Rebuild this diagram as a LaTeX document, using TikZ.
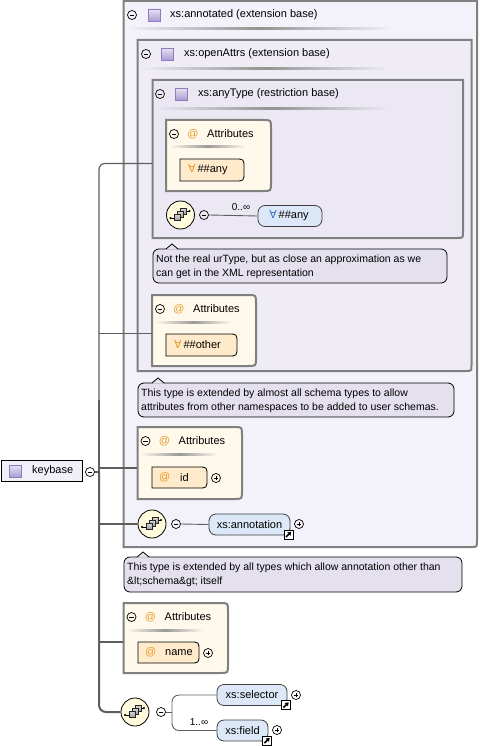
\documentclass[tikz,border=0pt]{standalone}
\usepackage{fontspec}
\setmainfont{Liberation Sans}
\newfontfamily\symfont{DejaVu Sans}
\usetikzlibrary{arrows.meta}
\definecolor{boxline}{HTML}{808080}
\definecolor{typeA}{HTML}{F3F1F9}
\definecolor{typeB}{HTML}{EFECF6}
\definecolor{typeC}{HTML}{EBE8F3}
\definecolor{attrbg}{HTML}{FFF9EC}
\definecolor{attrfill}{HTML}{FFEBCB}
\definecolor{elemfill}{HTML}{DCE7F7}
\definecolor{notefill}{HTML}{E5E0EE}
\definecolor{seqfill}{HTML}{FFFBDC}
\definecolor{orangeat}{HTML}{E89A2C}
\definecolor{wildblue}{HTML}{3A72C0}
\definecolor{conn}{HTML}{5E5E5E}
\definecolor{sqpurple}{HTML}{8E7CC3}
\definecolor{kbfill}{HTML}{F1EFF8}
\tikzset{
  txt/.style={inner sep=0, font=\fontsize{11}{13}\selectfont, anchor=west},
  notetxt/.style={inner sep=0, font=\fontsize{10.5}{13}\selectfont, anchor=west},
  multtxt/.style={inner sep=0, font=\fontsize{10}{12}\selectfont},
  minus/.style={circle, draw=black, line width=0.7, minimum size=9, inner sep=0,
    path picture={\draw[black, line width=0.7] ([xshift=-2.4pt]path picture bounding box.center) -- ([xshift=2.4pt]path picture bounding box.center);}},
  plus/.style={circle, draw=black, line width=0.7, minimum size=9, inner sep=0,
    path picture={\draw[black, line width=0.7] ([xshift=-2.4pt]path picture bounding box.center) -- ([xshift=2.4pt]path picture bounding box.center);
      \draw[black, line width=0.7] ([yshift=-2.4pt]path picture bounding box.center) -- ([yshift=2.4pt]path picture bounding box.center);}},
  sqicon/.style={rectangle, minimum size=12, inner sep=0, draw=sqpurple, line width=0.8, top color=sqpurple!22, bottom color=sqpurple!75},
  seqnode/.style={circle, draw=black, line width=0.8, fill=seqfill, minimum size=28, inner sep=0},
  elem/.style={draw=black!75, line width=0.8, fill=elemfill, rounded corners=7, minimum height=21, inner sep=0, font=\fontsize{11}{13}\selectfont},
  typeline/.style={draw=boxline, line width=2},
  attrline/.style={draw=boxline, line width=2, fill=attrbg},
  orangeline/.style={draw=black, line width=0.8, fill=attrfill},
  notebox/.style={draw=black, line width=0.8, fill=notefill, rounded corners=6},
  connthin/.style={draw=conn, line width=1.2},
  connthick/.style={draw=conn, line width=2},
  connfine/.style={draw=conn, line width=0.9},
}
\newcommand\typebox[5]{%
  \filldraw[typeline, fill=#5] (#1,#2) -- (#3,#2) -- (#3,#4-6) .. controls (#3,#4) .. (#3-6,#4) -- (#1,#4) -- cycle;}
\newcommand\attrbox[4]{%
  \filldraw[attrline] (#1,#2) -- (#3-8,#2) .. controls (#3,#2) .. (#3,#2+8) -- (#3,#4-8) .. controls (#3,#4) .. (#3-8,#4) -- (#1,#4) -- cycle;}
\newcommand\orangebox[4]{%
  \filldraw[orangeline] (#1,#2) -- (#3-9,#2) .. controls (#3,#2) .. (#3,#2+9) -- (#3,#4-9) .. controls (#3,#4) .. (#3-9,#4) -- (#1,#4) -- cycle;}
\newcommand\attrhead[3]{%
  \node[minus] (#3m) at (#1+8,#2+14) {};
  \node[txt, text=orangeat, anchor=center] (#3at) at (#1+27,#2+14) {@};
  \node[txt] (#3t) at (#1+41,#2+14) {Attributes};
  \shade[left color=attrbg, right color=attrbg, middle color=gray!80] (#1+3,#2+26) rectangle (#1+80,#2+28);}
\newcommand\seqglyph[1]{%
  \draw[line width=0.7] ([shift={(-10,3)}]#1.center) -- ([shift={(-6,3)}]#1.center);
  \fill ([shift={(-10,3)}]#1.center) circle (1.2);
  \draw[line width=0.7] ([shift={(5,-4)}]#1.center) -- ([shift={(9,-4)}]#1.center);
  \fill ([shift={(9,-4)}]#1.center) circle (1.2);
  \filldraw[draw=black!85, top color=gray!30, bottom color=gray!75, line width=0.5] ([shift={(0,-7)}]#1.center) rectangle ([shift={(6,-1)}]#1.center);
  \filldraw[draw=black!85, top color=gray!30, bottom color=gray!75, line width=0.5] ([shift={(-3,-4)}]#1.center) rectangle ([shift={(3,2)}]#1.center);
  \filldraw[draw=black!85, top color=gray!30, bottom color=gray!75, line width=0.5] ([shift={(-6,-1)}]#1.center) rectangle ([shift={(0,5)}]#1.center);}
\newcommand\linkicon[2]{%
  \filldraw[fill=white, draw=black, line width=0.9] (#1,#2) rectangle ++(9,9);
  \draw[line width=1.5, -{Triangle[length=3.4pt, width=4.4pt]}] (#1+2,#2+7) -- (#1+7.2,#2+1.8);}
\newcommand\notepointer[2]{%
  \fill[notefill] (#1-6,#2+0.5) -- (#1,#2-5) -- (#1+6,#2+0.5) -- cycle;
  \draw[black, line width=0.8] (#1-6,#2) -- (#1,#2-5) -- (#1+6,#2);}
\begin{document}
\begin{tikzpicture}[x=1pt,y=-1pt]
\useasboundingbox (0,0) rectangle (481,746);
\fill[white] (0,0) rectangle (481,746);

% ---- xs:annotated
\typebox{123.5}{1}{477}{547}{typeA}
\node[minus] (hAm) at (132,15) {};
\node[sqicon] (hAq) at (154,15) {};
\node[txt] (hAt) at (170,15) {xs:annotated (extension base)};
\shade[left color=typeA, right color=typeA, middle color=gray!85] (126,28) rectangle (393,30);

% ---- xs:openAttrs
\typebox{137.5}{40}{471.5}{371}{typeB}
\node[minus] (hBm) at (146,54) {};
\node[sqicon] (hBq) at (167.5,54) {};
\node[txt] (hBt) at (184,54) {xs:openAttrs (extension base)};
\shade[left color=typeB, right color=typeB, middle color=gray!85] (140,68) rectangle (390,70);

% ---- xs:anyType
\typebox{152.5}{80}{463}{238}{typeC}
\node[minus] (hCm) at (160,94) {};
\node[sqicon] (hCq) at (181.5,94) {};
\node[txt] (hCt) at (198,94) {xs:anyType (restriction base)};
\shade[left color=typeC, right color=typeC, middle color=gray!85] (155,108) rectangle (388,110);

% Attributes 1
\attrbox{166}{120}{271}{191}
\attrhead{166}{120}{Ao}
\orangebox{180}{159}{244}{181}
\node[txt] (anyA) at (188,170) {{\symfont\color{orangeat}∀}\,\#\#any};

% sequence in anyType
\node[seqnode] (s1) at (180.5,215) {};
\seqglyph{s1}
\node[minus] (s1m) at (204,215) {};
\node[elem, minimum width=64] (w1) at (290,216) {\hspace*{-2pt}{\symfont\color{wildblue}∀}\,\#\#any};
\draw[connfine] (s1m.east) -- (w1.west);
\node[multtxt] (m1) at (241,207) {0..∞};

% note 1
\draw[notebox] (153,249) rectangle (447,283);
\notepointer{172}{249}
\node[notetxt] (n1a) at (156,260) {Not the real urType, but as close an approximation as we};
\node[notetxt] (n1b) at (156,273.5) {can get in the XML representation};

% Attributes 2
\attrbox{152}{295}{256}{366}
\attrhead{152}{295}{Bo}
\orangebox{166}{334}{237}{356}
\node[txt] (othA) at (174,345) {{\symfont\color{orangeat}∀}\,\#\#other};

% note 2
\draw[notebox] (138,383) rectangle (454,417);
\notepointer{158}{383}
\node[notetxt] (n2a) at (141,393.5) {This type is extended by almost all schema types to allow};
\node[notetxt] (n2b) at (141,407.5) {attributes from other namespaces to be added to user schemas.};

% Attributes 3 (id)
\attrbox{137.5}{427}{242}{499}
\attrhead{137.5}{427}{Co}
\orangebox{152}{467}{207}{488}
\node[txt, text=orangeat] (idat) at (159,477.5) {@};
\node[txt] (idt) at (180,477.5) {id};
\node[plus] (idp) at (216,478) {};

% sequence annotation
\node[seqnode] (s2) at (152,524) {};
\seqglyph{s2}
\node[minus] (s2m) at (176,524) {};
\node[elem, minimum width=81] (ann) at (249.5,524.5) {xs:annotation};
\draw[connfine] (s2m.east) -- (ann.west);
\node[plus] (annp) at (299,524) {};
\linkicon{284}{530}

% note 3
\draw[notebox] (124,557) rectangle (462,592);
\notepointer{143}{557}
\node[notetxt] (n3a) at (127,567.5) {This type is extended by all types which allow annotation other than};
\node[notetxt] (n3b) at (127,581.5) {\&lt;schema\&gt; itself};

% Attributes 4 (name)
\attrbox{123.5}{603}{228}{673}
\attrhead{123.5}{603}{Do}
\orangebox{138}{642}{199}{663}
\node[txt, text=orangeat] (nmat) at (145,652.5) {@};
\node[txt] (nmt) at (165,652.5) {name};
\node[plus] (nmp) at (208,653) {};

% keybase
\node[draw=black, line width=1, fill=kbfill, minimum width=81, minimum height=21, inner sep=0] (kb) at (41.5,471) {};
\node[sqicon] (kbq) at (15.5,471) {};
\node[txt] (kbt) at (32,471) {keybase};
\node[minus] (kbm) at (90,472) {};

% bottom sequence
\node[seqnode] (s3) at (135,712) {};
\seqglyph{s3}
\node[minus] (s3m) at (161,712) {};
\node[elem, minimum width=70] (sel) at (252,695) {xs:selector};
\node[elem, minimum width=51] (fld) at (242.5,730.5) {xs:field};
\coordinate (br) at (172,712);
\draw[connfine] (s3m.east) -- (br);
\draw[connfine, rounded corners=7] (br) |- (sel.west);
\draw[connfine, rounded corners=7] (br) |- (fld.west);
\node[multtxt] (m2) at (199,722) {1..∞};
\node[plus] (selp) at (296,695) {};
\node[plus] (fldp) at (277,730) {};
\linkicon{281.5}{700.5}
\linkicon{262.5}{736}

% trunk connectors
\coordinate (anyL) at (152,163.5);
\coordinate (othL) at (152,333.5);
\coordinate (idL) at (137,468);
\coordinate (nmL) at (123,642);
\coordinate (trunk) at (99,472);
\coordinate (trunkmid) at (99,400);
\draw[connthin, rounded corners=6] (anyL) -| (trunkmid);
\draw[connthin] (othL) -- (othL -| trunk);
\draw[connthick] (trunkmid) -- (trunk);
\draw[connthick, rounded corners=7] (trunk) |- (s3.west);
\draw[connthick] (kbm.east) -- (trunk);
\draw[connthick] (trunk |- idL) -- (idL);
\draw[connthick] (trunk |- s2.west) -- (s2.west);
\draw[connthick] (trunk |- nmL) -- (nmL);
\end{tikzpicture}
\end{document}
